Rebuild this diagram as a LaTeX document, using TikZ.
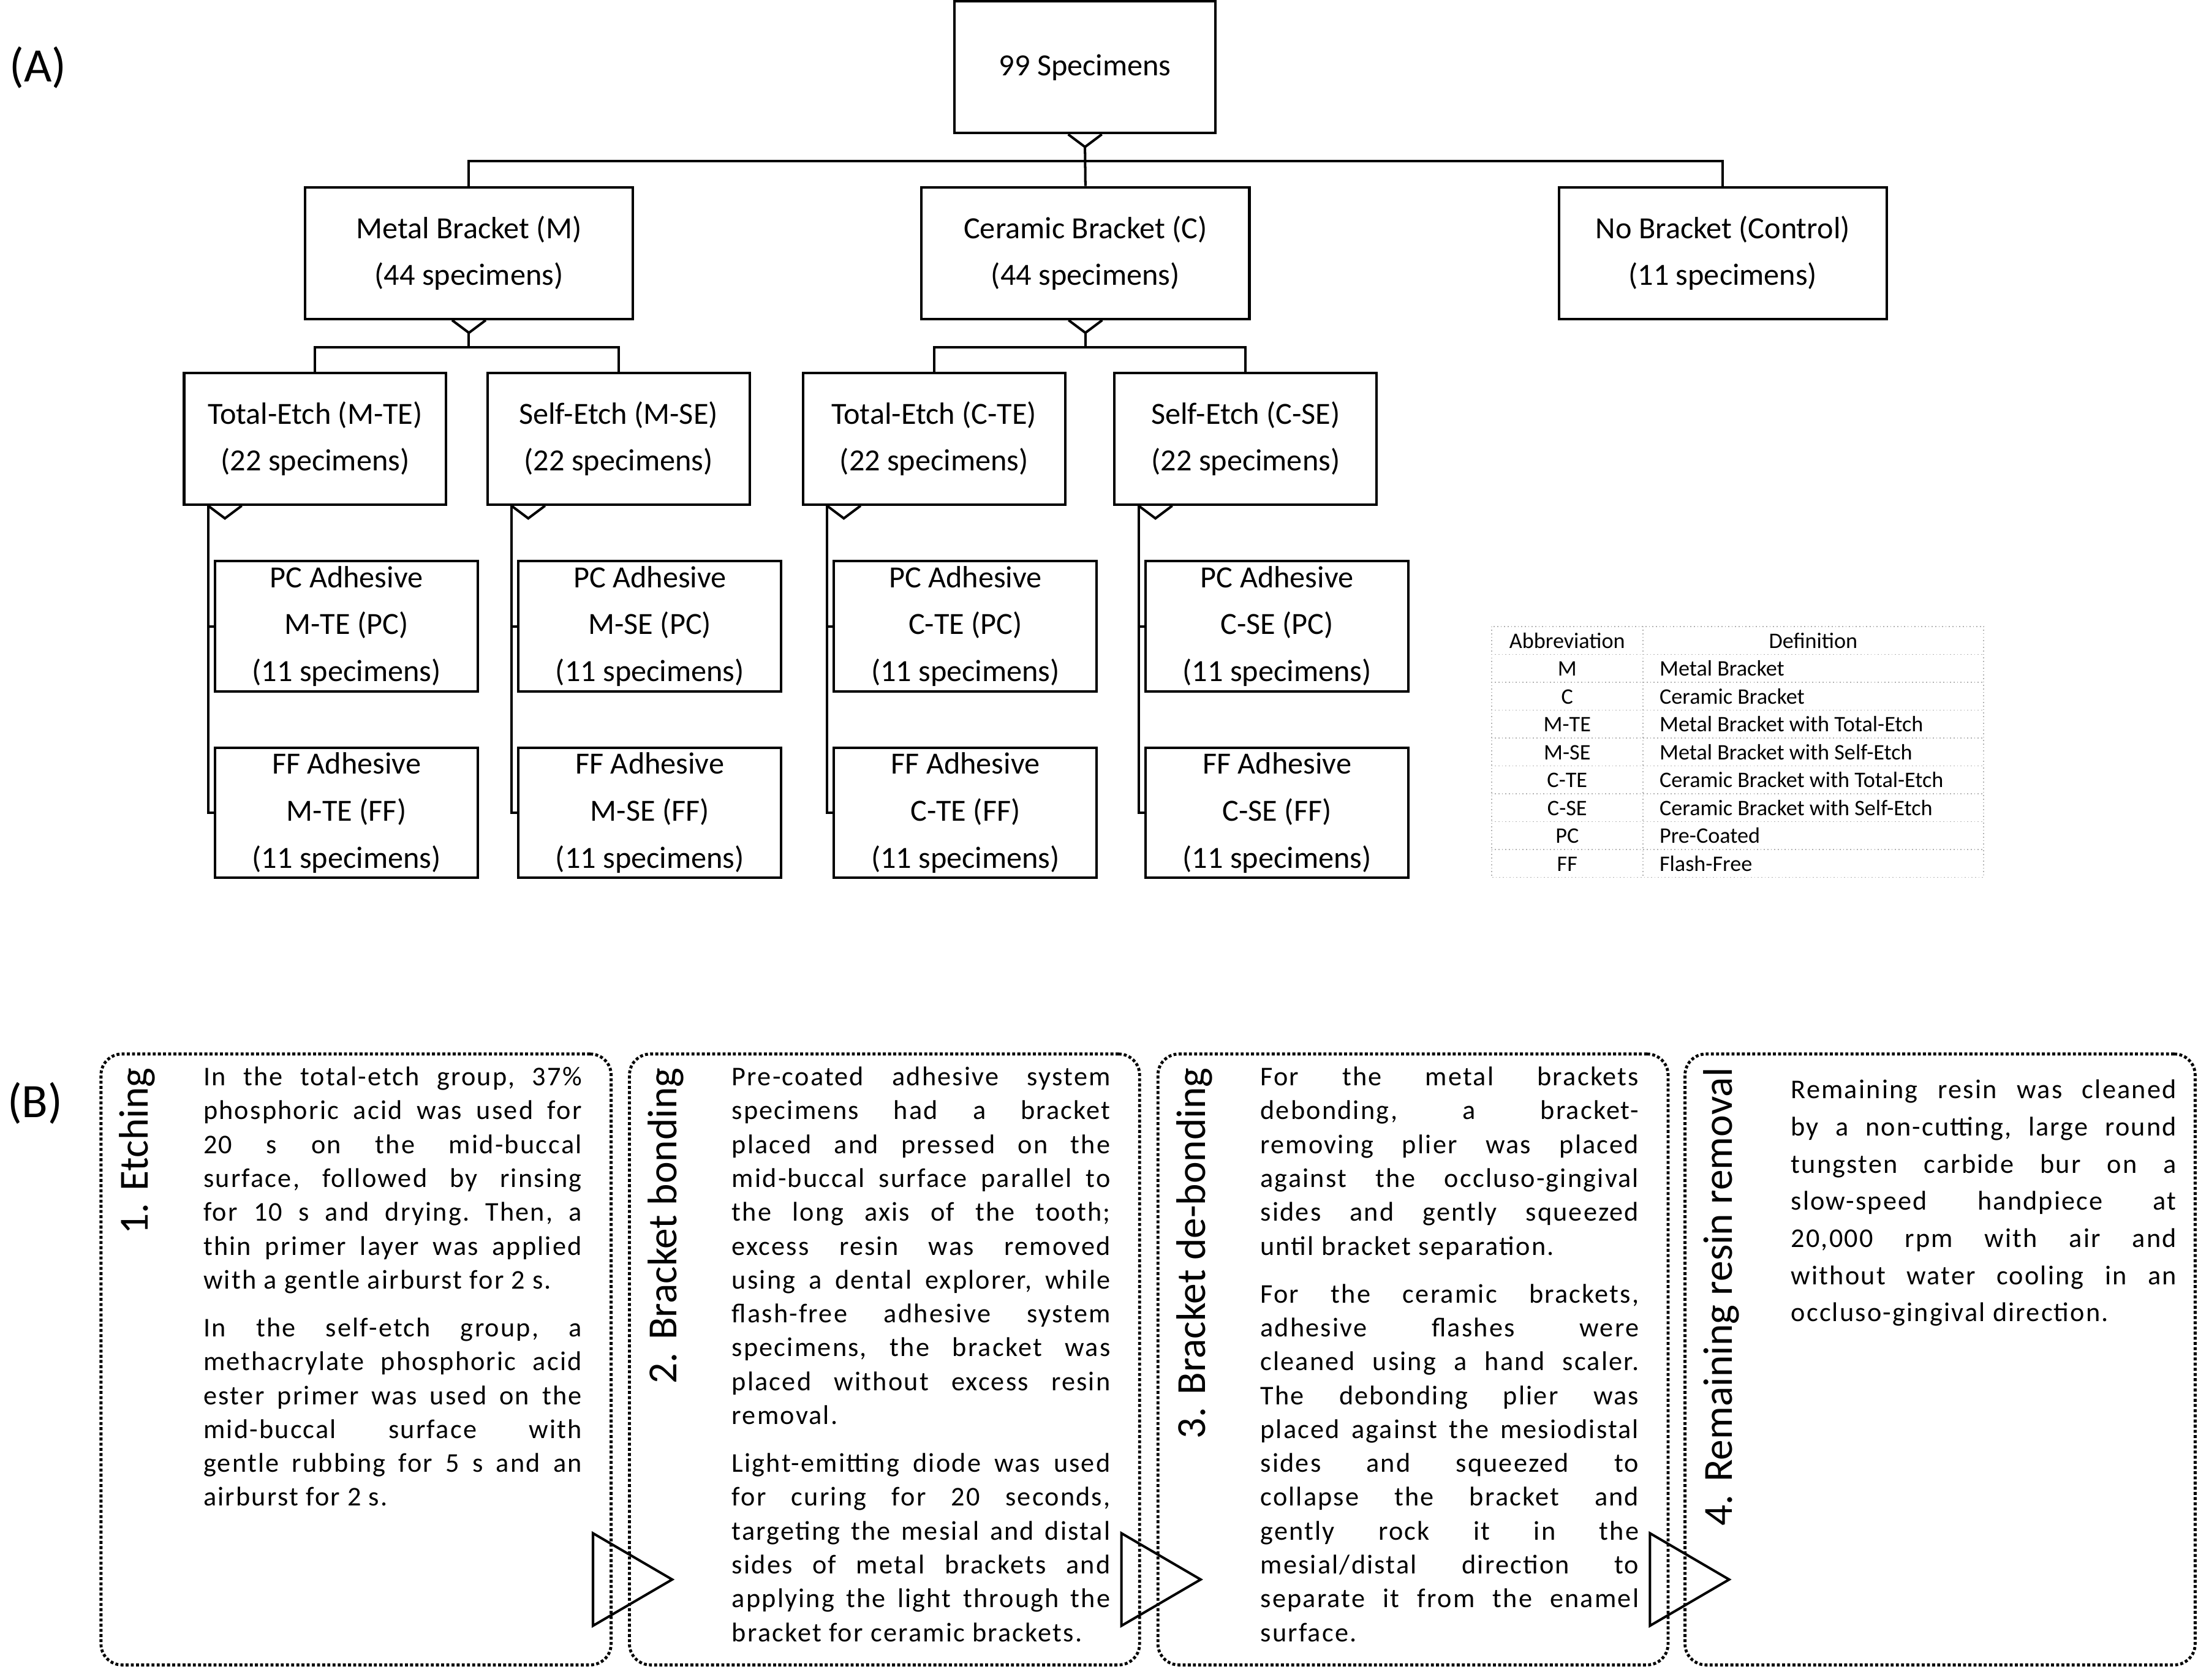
\documentclass[tikz,border=0pt]{standalone}
\usepackage{fontspec}
\setmainfont{Carlito}
\newfontfamily\bodyfont[LetterSpace=5]{Carlito}
\usetikzlibrary{calc,positioning}
\tikzset{
  grp/.style={draw, line width=1pt, minimum width=4.68cm, minimum height=1.88cm,
    inner sep=0pt, align=center, font=\fontsize{12.5}{19.1}\selectfont},
  sub/.style={grp, minimum width=3.74cm},
  leaf/.style={grp, minimum width=3.75cm, minimum height=1.86cm},
  panel/.style={inner sep=0pt, font=\fontsize{19.5}{23}\selectfont},
  tabline/.style={gray!60, line width=0.4pt, densely dotted},
  tabtxt/.style={inner sep=0pt, text height=6.5pt, text depth=2pt, font=\fontsize{9}{11}\selectfont},
  card/.style={draw, line width=1.2pt, dash pattern=on 1.2pt off 0.9pt,
    rounded corners=0.3cm, minimum width=7.28cm, minimum height=8.72cm},
  steptitle/.style={rotate=90, anchor=east, inner sep=0pt, font=\fontsize{16.8}{20}\selectfont},
  stepbody/.style={anchor=base west, inner sep=0pt, text width=5.4cm, align=justify,
    font=\bodyfont\fontsize{11}{13.75}\selectfont,
    execute at begin node={\setlength{\parskip}{5.7pt}\frenchspacing\tolerance=10000\hyphenpenalty=10000}},
}
% marca en V bajo una caja
\newcommand{\crowfoot}[2]{%
  \draw[line width=1pt] ($(#1)+(-12,0)$) -- ($(#1)+(0,9)$) coordinate (#2) -- ($(#1)+(12,0)$);}

\begin{document}
\begin{tikzpicture}[x=0.02cm, y=-0.02cm, line width=1pt]
  \useasboundingbox (0,0) rectangle (1568,1198.7);

  \begin{scope}
    % (A) arbol de grupos
    \node[panel] (pa) at (27,48) {(A)};

    \node[grp, minimum width=3.72cm] (root) at (774,48) {99 Specimens};
    \node[grp] (metal) at (334.5,180.6) {Metal Bracket (M)\\(44 specimens)};
    \node[grp] (ceramic) at (774.3,180.6) {Ceramic Bracket (C)\\(44 specimens)};
    \node[grp] (nobr) at (1229,180.6) {No Bracket (Control)\\(11 specimens)};

    \node[sub] (mte) at (224.8,313) {Total-Etch (M-TE)\\(22 specimens)};
    \node[sub] (mse) at (441.2,313) {Self-Etch (M-SE)\\(22 specimens)};
    \node[sub] (cte) at (666.3,313) {Total-Etch (C-TE)\\(22 specimens)};
    \node[sub] (cse) at (888.6,313) {Self-Etch (C-SE)\\(22 specimens)};

    % conectores nivel 1
    \crowfoot{root.south}{rv}
    \draw (rv) -- (ceramic.north);
    \draw (metal.north) |- ($(rv)+(0,10)$) -| (nobr.north);

    % conectores nivel 2
    \crowfoot{metal.south}{mv}
    \draw (mte.north) |- ($(mv)+(0,10.5)$) coordinate (mbar) -| (mse.north);
    \draw (mv) -- (mbar);
    \crowfoot{ceramic.south}{cv}
    \draw (cte.north) |- ($(cv)+(0,10.5)$) coordinate (cbar) -| (cse.north);
    \draw (cv) -- (cbar);

    % adhesivos PC / FF
    \foreach \g/\lab in {mte/M-TE, mse/M-SE, cte/C-TE, cse/C-SE}{
      \node[leaf] (\g-pc) at ($(\g.south west)+(116.75,86)$) {PC Adhesive\\\lab{} (PC)\\(11 specimens)};
      \node[leaf] (\g-ff) at ($(\g.south west)+(116.75,219)$) {FF Adhesive\\\lab{} (FF)\\(11 specimens)};
      \coordinate (\g-v) at ($(\g.south west)+(30,0)$);
      \crowfoot{\g-v}{\g-w}
      \draw ($(\g.south west)+(18,0)$) |- (\g-pc.west);
      \draw ($(\g.south west)+(18,0)$) |- (\g-ff.west);
    }

    % tabla de abreviaturas
    \draw[tabline] (1064,447) rectangle (1415,626);
    \foreach \r in {1,...,8}
      \draw[tabline] (1064,447+19.89*\r) -- (1415,447+19.89*\r);
    \draw[tabline] (1172,447) -- (1172,626);
    \node[tabtxt] (hab) at (1118,458.5) {Abbreviation};
    \node[tabtxt] (hdf) at (1293.5,458.5) {Definition};
    \foreach \ab/\df [count=\i] in {M/Metal Bracket, C/Ceramic Bracket,
        M-TE/Metal Bracket with Total-Etch, M-SE/Metal Bracket with Self-Etch,
        C-TE/Ceramic Bracket with Total-Etch, C-SE/Ceramic Bracket with Self-Etch,
        PC/Pre-Coated, FF/Flash-Free}{
      \node[tabtxt] (ab\i) at (1118,458.5+19.89*\i) {\ab};
      \node[tabtxt, anchor=west] (df\i) at (1183,458.5+19.89*\i) {\df};
    }
  \end{scope}

  \begin{scope}
    % (B) pasos del procedimiento
    \node[panel] (pb) at (25,787) {(B)};

    \foreach \i/\cx in {1/254, 2/631, 3/1008, 4/1384}
      \node[card] (s\i) at (\cx,970) {};

    \foreach \i/\ttl in {1/1. Etching, 2/2. Bracket bonding, 3/3. Bracket de-bonding,
        4/4. Remaining resin removal}
      \node[steptitle] (t\i) at ($(s\i.north west)+(27,10)$) {\ttl};

    \node[stepbody] (b1) at ($(s1.north west)+(73.3,23.7)$) {%
      In the total-etch group, 37\%\linebreak
      phosphoric acid was used for\linebreak
      20 s on the mid-buccal\linebreak
      surface, followed by rinsing\linebreak
      for 10 s and drying. Then, a\linebreak
      thin primer layer was applied\linebreak
      with a gentle airburst for 2 s.\par
      In the self-etch group, a\linebreak
      methacrylate phosphoric acid\linebreak
      ester primer was used on the\linebreak
      mid-buccal surface with\linebreak
      gentle rubbing for 5 s and an\linebreak
      airburst for 2 s.};

    \node[stepbody] (b2) at ($(s2.north west)+(73.3,23.7)$) {%
      Pre-coated adhesive system\linebreak
      specimens had a bracket\linebreak
      placed and pressed on the\linebreak
      mid-buccal surface parallel to\linebreak
      the long axis of the tooth;\linebreak
      excess resin was removed\linebreak
      using a dental explorer, while\linebreak
      flash-free adhesive system\linebreak
      specimens, the bracket was\linebreak
      placed without excess resin\linebreak
      removal.\par
      Light-emitting diode was used\linebreak
      for curing for 20 seconds,\linebreak
      targeting the mesial and distal\linebreak
      sides of metal brackets and\linebreak
      applying the light through the\linebreak
      bracket for ceramic brackets.};

    \node[stepbody] (b3) at ($(s3.north west)+(73.3,23.7)$) {%
      For the metal brackets\linebreak
      debonding, a bracket-\linebreak
      removing plier was placed\linebreak
      against the occluso-gingival\linebreak
      sides and gently squeezed\linebreak
      until bracket separation.\par
      For the ceramic brackets,\linebreak
      adhesive flashes were\linebreak
      cleaned using a hand scaler.\linebreak
      The debonding plier was\linebreak
      placed against the mesiodistal\linebreak
      sides and squeezed to\linebreak
      collapse the bracket and\linebreak
      gently rock it in the\linebreak
      mesial/distal direction to\linebreak
      separate it from the enamel\linebreak
      surface.};

    \node[stepbody, text width=5.5cm, font=\bodyfont\fontsize{11}{15.08}\selectfont]
      (b4) at ($(s4.north west)+(75.8,33)$) {%
      Remaining resin was cleaned\linebreak
      by a non-cutting, large round\linebreak
      tungsten carbide bur on a\linebreak
      slow-speed handpiece at\linebreak
      20,000 rpm with air and\linebreak
      without water cooling in an\linebreak
      occluso-gingival direction.};

    % flechas entre pasos
    \foreach \i in {1,2,3}
      \draw ($(s\i.south east)+(-14,-95)$) -- ($(s\i.south east)+(42.5,-62)$)
        -- ($(s\i.south east)+(-14,-29)$) -- cycle;
  \end{scope}
\end{tikzpicture}
\end{document}
